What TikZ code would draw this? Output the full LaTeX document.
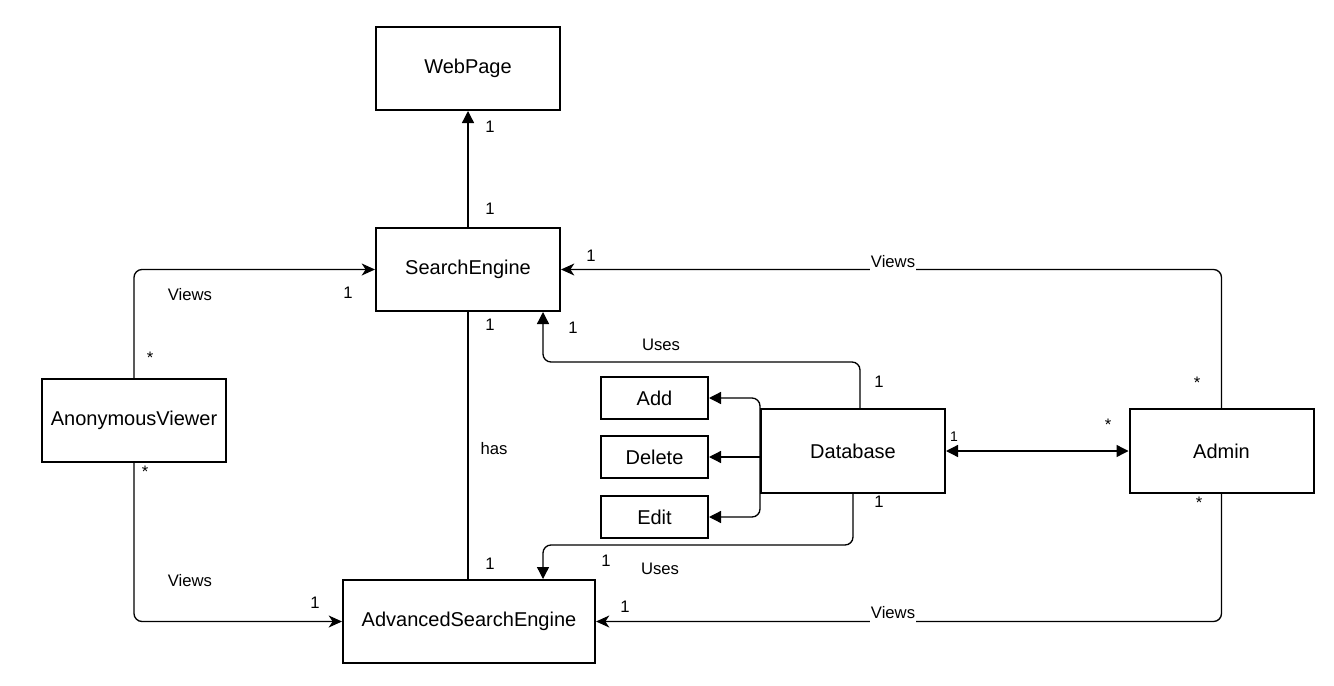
\documentclass[tikz,border=0pt]{standalone}
\usepackage{fontspec}
\setmainfont{Liberation Sans}
\usetikzlibrary{arrows.meta,calc}
\begin{document}
\begin{tikzpicture}[x=0.75pt,y=-0.75pt,
  box/.style={draw,line width=1.5pt,inner sep=0pt,font=\fontsize{15}{18}\selectfont,minimum width=138pt,minimum height=62.25pt},
  sbox/.style={draw,line width=1.5pt,inner sep=0pt,font=\fontsize{15}{18}\selectfont,minimum width=80.25pt,minimum height=31.5pt},
  conn/.style={line width=1pt,rounded corners=6pt},
  blk/.style={conn,-{Triangle[length=9pt,width=9pt]}},
  blk2/.style={conn,{Triangle[length=9pt,width=9pt]}-{Triangle[length=9pt,width=9pt]}},
  opn/.style={conn,-{Stealth[length=10pt,width=9pt,inset=3pt]}},
  lbl/.style={font=\fontsize{12.5}{15}\selectfont,inner sep=1pt},
  slbl/.style={font=\fontsize{10.5}{12}\selectfont,inner sep=1pt},
  vlbl/.style={font=\fontsize{12.5}{15}\selectfont,inner xsep=1pt,inner ysep=3.5pt,fill=white}]
\useasboundingbox (0,0) rectangle (1334,685);
\fill[white] (0,0) rectangle (1334,685);
% nodes
\node[box] (wp) at (468,68.5) {WebPage};
\node[box] (se) at (468,269.5) {SearchEngine};
\node[box] (av) at (134,420.5) {AnonymousViewer};
\node[box,minimum width=189pt] (ase) at (469,621.5) {AdvancedSearchEngine};
\node[box,minimum height=63pt] (db) at (853,451) {Database};
\node[box,minimum height=63pt] (adm) at (1221.5,451) {Admin};
\node[sbox] (add) at (654.5,398) {Add};
\node[sbox] (del) at (654.5,457) {Delete};
\node[sbox] (edit) at (654.5,517) {Edit};
% coordinates
\coordinate (dbt) at ($(db.north)+(7,0)$);
\coordinate (u1) at (543,362);
\coordinate (u2) at (543,545);
% connectors
\draw[blk] (se.north) -- (wp.south);
\draw[opn] (av.north) |- (se.west);
\draw[opn] (av.south) |- (ase.west);
\draw[conn] (se.south) -- (se.south |- ase.north);
\draw[blk] (dbt) |- (u1) -- (u1 |- se.south);
\draw[blk] (db.south) |- (u2) -- (u2 |- ase.north);
\draw[blk] (db.west) |- (add.east);
\draw[blk] (db.west |- del.east) -- (del.east);
\draw[blk] (db.west) |- (edit.east);
\draw[blk2] (db.east) -- (adm.west);
\draw[opn] (adm.north) |- (se.east);
\draw[opn] (adm.south) |- (ase.east);
% labels
\node[lbl] at (490,127) {1};
\node[lbl] at (490,209) {1};
\node[lbl] at (591,256) {1};
\node[lbl] at (190,295) {Views};
\node[lbl] at (348,293) {1};
\node[lbl] at (150,358) {*};
\node[lbl] at (145,472) {*};
\node[lbl] at (190,581) {Views};
\node[lbl] at (315,603) {1};
\node[lbl] at (490,325) {1};
\node[lbl] at (573,328) {1};
\node[lbl] at (494,449) {has};
\node[lbl] at (661,345) {Uses};
\node[lbl] at (879,382) {1};
\node[lbl] at (879,502) {1};
\node[lbl] at (606,561) {1};
\node[lbl] at (660,569) {Uses};
\node[lbl] at (490,564) {1};
\node[lbl] at (625,607) {1};
\node[slbl] at (954,437) {1};
\node[lbl] at (1108,425) {*};
\node[lbl] at (1197,383) {*};
\node[lbl] at (1199,503) {*};
\node[vlbl] at (893,262) {Views};
\node[vlbl] at (893,613) {Views};
\end{tikzpicture}
\end{document}
